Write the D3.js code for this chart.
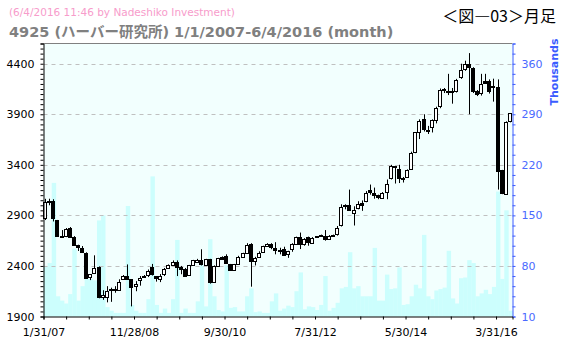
<!DOCTYPE html>
<html lang="ja">
<head>
<meta charset="UTF-8">
<title>4925 月足</title>
<script src="https://d3js.org/d3.v7.min.js"></script>
<style>
  body { margin: 0; background: #ffffff; }
  svg text { font-family: "DejaVu Sans", Verdana, sans-serif; }
</style>
</head>
<body>
<svg id="chart" width="566" height="349"></svg>
<script>
// monthly candles, Jan 2007 .. Jun 2016 (114 months)
var open = [2877,3030,3040,2851,2700,2690,2775,2690,2607,2578,2531,2285,2324,2390,2090,2090,2160,2170,2170,2275,
            2305,2268,2203,2258,2295,2315,2385,2300,2275,2318,2372,2410,2442,2390,2373,2310,2405,2440,2455,2405,
            2465,2245,2395,2490,2500,2417,2360,2417,2490,2530,2620,2445,2490,2540,2597,2620,2580,2560,2567,2511,
            2567,2616,2682,2616,2682,2630,2690,2695,2700,2672,2705,2720,2803,3005,3005,2920,2973,3025,3040,3147,
            3117,3098,3075,3130,3270,3385,3357,3265,3280,3357,3520,3720,3850,3740,3770,3850,3987,4150,4130,4130,
            4131,4262,4350,4400,4360,4131,4105,4230,4230,4180,4170,3344,3115,3826];
var high = [3064,3065,3060,2855,2755,2775,2785,2695,2610,2597,2535,2320,2505,2395,2160,2200,2185,2200,2268,2310,
            2415,2270,2250,2300,2310,2365,2420,2300,2320,2380,2415,2455,2455,2400,2380,2410,2460,2470,2565,2470,
            2470,2405,2480,2495,2515,2420,2420,2500,2530,2625,2625,2490,2545,2600,2625,2625,2635,2580,2590,2550,
            2625,2690,2730,2675,2690,2685,2695,2710,2755,2705,2710,2795,3010,3010,3155,2990,3040,3048,3140,3205,
            3175,3105,3130,3255,3400,3390,3400,3280,3355,3530,3725,3850,3900,3785,3850,3975,4155,4160,4300,4160,
            4250,4400,4430,4505,4365,4140,4300,4300,4245,4252,4245,3350,3830,3910];
var low  = [2854,3000,2840,2690,2685,2685,2685,2600,2548,2531,2280,2260,2320,2080,2065,2040,2045,2135,2165,2270,
            2265,2000,2150,2205,2290,2290,2305,2245,2240,2300,2370,2400,2300,2318,2295,2305,2400,2430,2405,2400,
            2225,2240,2390,2465,2420,2355,2355,2410,2485,2525,2195,2405,2485,2535,2595,2565,2515,2515,2500,2480,
            2540,2610,2567,2600,2600,2620,2685,2690,2650,2665,2700,2700,2790,2960,2945,2800,2960,2945,3030,3105,
            3065,3060,3070,3060,3255,3215,3220,3225,3270,3350,3515,3655,3730,3705,3720,3810,3960,4110,4090,4005,
            4115,4250,4330,3900,4110,4080,4085,4200,4105,4025,3155,3110,3110,3820];
var close = [3032,3040,2867,2696,2690,2762,2690,2607,2588,2541,2285,2318,2377,2090,2110,2153,2170,2172,2245,2305,
            2275,2186,2225,2278,2297,2354,2315,2285,2305,2372,2405,2442,2393,2373,2300,2405,2455,2455,2415,2465,
            2235,2400,2475,2472,2433,2360,2417,2490,2525,2610,2450,2475,2532,2597,2620,2590,2558,2562,2511,2544,
            2616,2682,2616,2665,2633,2677,2692,2705,2672,2700,2707,2780,2985,3000,2960,2952,3009,3009,3120,3130,
            3098,3075,3124,3212,3385,3375,3269,3260,3350,3515,3720,3833,3750,3735,3843,3967,4144,4140,4120,4128,
            4243,4334,4400,4367,4131,4105,4197,4210,4131,4182,3344,3120,3826,3908];
// volume, thousands
var volume = [80,84,195,38,32,28,41,104,32,52,62,62,60,143,150,23,18,15,15,15,
              163,26,18,15,15,34,204,26,15,21,15,34,116,15,21,15,15,31,81,24,
              117,38,19,17,81,22,23,17,17,38,49,16,17,15,15,31,42,18,21,25,
              23,45,71,20,24,23,19,26,66,18,22,29,49,51,99,49,52,38,38,38,
              105,32,32,68,48,49,78,26,27,38,54,49,123,38,34,46,48,50,101,35,
              28,63,64,88,84,38,42,47,41,51,183,62,157,18];
var xLabels = ["1/31/07","11/28/08","9/30/10","7/31/12","5/30/14","3/31/16"];

var svg = d3.select("#chart");
var L = 43.5, R = 512.5, T = 43.5, B = 316.5;

var x = d3.scaleLinear().domain([0, 114]).range([L, R]);
var yP = d3.scaleLinear().domain([1900, 4600]).range([B, T]);
var yV = d3.scaleLinear().domain([10, 388]).range([B, T]);

// plot background
svg.append("rect").attr("x", L).attr("y", T).attr("width", R - L).attr("height", B - T)
    .attr("fill", "#f2fffe");

// volume skyline
svg.append("g").selectAll("rect").data(volume).enter().append("rect")
    .attr("x", function(d, i){ return x(i); })
    .attr("width", function(d, i){ return x(i + 1) - x(i) + 0.3; })
    .attr("y", function(d){ return yV(d); })
    .attr("height", function(d){ return B - yV(d); })
    .attr("fill", "#ccfefd");

// dashed grid
svg.append("g").selectAll("line").data(d3.range(2400, 4401, 500)).enter().append("line")
    .attr("x1", L).attr("x2", R)
    .attr("y1", function(d){ return Math.round(yP(d)) + 0.5; })
    .attr("y2", function(d){ return Math.round(yP(d)) + 0.5; })
    .attr("stroke", "#c0c0c0").attr("stroke-dasharray", "4,4");

// candles
var candle = svg.append("g").selectAll("g").data(open).enter().append("g")
    .attr("transform", function(d, i){ return "translate(" + Math.floor(x(i + 0.5)) + ",0)"; });
candle.append("line")
    .attr("x1", 0.5).attr("x2", 0.5)
    .attr("y1", function(d, i){ return yP(high[i]); })
    .attr("y2", function(d, i){ return yP(low[i]); })
    .attr("stroke", "#000");
candle.append("rect")
    .attr("x", -1.5).attr("width", 3)
    .attr("y", function(d, i){ return Math.round(yP(Math.max(open[i], close[i]))) + 0.5; })
    .attr("height", function(d, i){ return Math.max(1, Math.round(Math.abs(yP(open[i]) - yP(close[i])))); })
    .attr("fill", function(d, i){ return close[i] < open[i] ? "#000" : "#fff"; })
    .attr("stroke", "#000");

// top frame
svg.append("line").attr("x1", L).attr("x2", R).attr("y1", T).attr("y2", T).attr("stroke", "#808080");

// left axis
var axL = svg.append("g").attr("transform", "translate(" + L + ",0)")
    .call(d3.axisLeft(yP).tickValues(d3.range(1900, 4601, 50)).tickSize(3).tickPadding(6)
        .tickFormat(function(d){ return (d - 1900) % 500 === 0 ? d : ""; }));
axL.select(".domain").attr("stroke", "#000");
axL.selectAll("text").attr("font-size", 11).attr("fill", "#000").attr("font-family", "DejaVu Sans");

// right axis (volume)
var axR = svg.append("g").attr("transform", "translate(" + R + ",0)")
    .call(d3.axisRight(yV).tickValues(d3.range(10, 389, 14)).tickSize(3).tickPadding(6)
        .tickFormat(function(d){ return (d - 10) % 70 === 0 ? d : ""; }));
axR.select(".domain").attr("stroke", "#3b5cff");
axR.selectAll("line").attr("stroke", "#3b5cff");
axR.selectAll("text").attr("font-size", 11).attr("fill", "#4a6aff").attr("font-family", "DejaVu Sans");

// bottom axis
var axB = svg.append("g").attr("transform", "translate(0," + B + ")")
    .call(d3.axisBottom(x).tickValues(d3.range(0, 111, 5.5)).tickSize(3).tickPadding(9)
        .tickFormat(function(d, i){ return i % 4 === 0 ? xLabels[i / 4] : ""; }));
axB.select(".domain").attr("stroke", "#000");
axB.selectAll("text").attr("font-size", 11).attr("fill", "#000").attr("font-family", "DejaVu Sans");

svg.append("text").attr("transform", "translate(558,72) rotate(-90)")
    .attr("text-anchor", "middle").attr("font-size", 11).attr("font-weight", "bold")
    .attr("fill", "#3b5cff").text("Thousands");

// titles
svg.append("text").attr("x", 9).attr("y", 16).attr("font-size", 10.5).attr("fill", "#f79ccb")
    .text("(6/4/2016 11:46 by Nadeshiko Investment)");
svg.append("text").attr("x", 9).attr("y", 37).attr("font-size", 14.5).attr("font-weight", "bold")
    .attr("fill", "#808080")
    .style("font-family", "'DejaVu Sans', 'Noto Sans CJK JP', sans-serif")
    .text("4925 (ハーバー研究所) 1/1/2007-6/4/2016 (month)");
svg.append("text").attr("x", 556).attr("y", 22).attr("text-anchor", "end").attr("font-size", 16)
    .attr("fill", "#000").style("font-family", "'Noto Sans CJK JP', sans-serif")
    .text("＜図―03＞月足");
</script>
</body>
</html>
